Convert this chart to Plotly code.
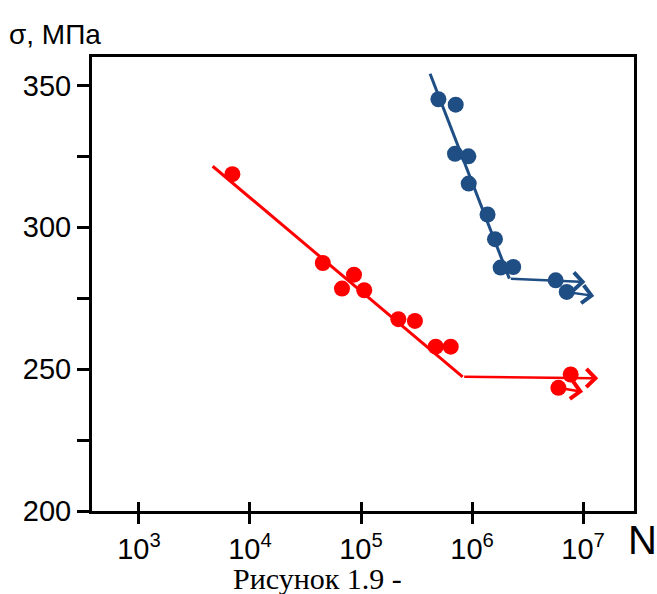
import numpy as np
import plotly.graph_objects as go

# ---- data ----
red_N = [6.94e3, 4.53e4, 8.65e4, 6.74e4, 1.07e5, 2.17e5, 3.06e5, 4.71e5, 6.43e5, 7.74e6, 6.0e6]
red_s = [318.7, 287.4, 283.3, 278.4, 277.8, 267.6, 267.0, 257.9, 257.9, 248.1, 243.4]
blue_N = [4.98e5, 7.13e5, 7.03e5, 9.27e5, 9.34e5, 1.38e6, 1.61e6, 1.81e6, 2.35e6, 5.67e6, 7.13e6]
blue_s = [345.1, 343.2, 325.9, 325.0, 315.4, 304.5, 295.8, 285.8, 286.0, 281.3, 277.2]

# fitted lines: start, knee ; arrows: (tail, tip)
red_line_N = [4.61e3, 8.24e5]
red_line_s = [321.5, 247.3]
red_arrow_tail_N = [8.24e5, 6.0e6]
red_arrow_tail_s = [247.3, 243.4]
red_arrow_tip_N = [1.37e7, 1.0e7]
red_arrow_tip_s = [246.8, 242.0]

blue_line_N = [4.19e5, 2.17e6]
blue_line_s = [354.1, 281.9]
blue_arrow_tail_N = [2.17e6, 7.13e6]
blue_arrow_tail_s = [281.9, 277.2]
blue_arrow_tip_N = [1.05e7, 1.26e7]
blue_arrow_tip_s = [280.7, 275.8]

x_tickvals = [1e3, 1e4, 1e5, 1e6, 1e7]
x_ticktext = ["10<sup>3</sup>", "10<sup>4</sup>", "10<sup>5</sup>", "10<sup>6</sup>", "10<sup>7</sup>"]
y_tickvals = [200, 225, 250, 275, 300, 325, 350]
y_ticktext = ["200", "", "250", "", "300", "", "350"]

RED = "#FF0000"
BLUE = "#1F4E85"
FONT = "Arial, Liberation Sans, sans-serif"

fig = go.Figure()
fig.add_trace(go.Scatter(x=red_line_N, y=red_line_s, mode="lines",
                         line=dict(color=RED, width=3), showlegend=False))
fig.add_trace(go.Scatter(x=blue_line_N, y=blue_line_s, mode="lines",
                         line=dict(color=BLUE, width=3), showlegend=False))
fig.add_trace(go.Scatter(x=red_N, y=red_s, mode="markers",
                         marker=dict(color=RED, size=16), showlegend=False))
fig.add_trace(go.Scatter(x=blue_N, y=blue_s, mode="markers",
                         marker=dict(color=BLUE, size=16), showlegend=False))
fig.add_trace(go.Scatter(x=[], y=[], xaxis="x2", showlegend=False))

anns = []
for tails_N, tails_s, tips_N, tips_s, col in [
    (red_arrow_tail_N, red_arrow_tail_s, red_arrow_tip_N, red_arrow_tip_s, RED),
    (blue_arrow_tail_N, blue_arrow_tail_s, blue_arrow_tip_N, blue_arrow_tip_s, BLUE),
]:
    for tn, ts, pn, ps in zip(tails_N, tails_s, tips_N, tips_s):
        anns.append(dict(x=np.log10(pn), y=ps, ax=np.log10(tn), ay=ts,
                         xref="x", yref="y", axref="x", ayref="y",
                         text="", showarrow=True, arrowhead=4, arrowsize=1.4,
                         arrowwidth=2.5, arrowcolor=col, standoff=0, startstandoff=0))

# text positions given in pixels from the top-left of the picture
L, R, T, B = 92, 23, 57, 83
W, H = 657, 594
pw, ph = W - L - R, H - T - B


def px(x, y):
    return (x - L) / pw, (H - B - y) / ph


x0, y0 = px(7, 17)
anns.append(dict(x=x0, y=y0, xref="paper", yref="paper", text="σ, МПа",
                 showarrow=False, xanchor="left", yanchor="top",
                 font=dict(family=FONT, size=28, color="black")))
x0, y0 = px(642, 540)
anns.append(dict(x=x0, y=y0, xref="paper", yref="paper", text="N",
                 showarrow=False, xanchor="center", yanchor="middle",
                 font=dict(family=FONT, size=40, color="black")))
x0, y0 = px(317, 578)
anns.append(dict(x=x0, y=y0, xref="paper", yref="paper", text="Рисунок 1.9 -",
                 showarrow=False, xanchor="center", yanchor="middle",
                 font=dict(family="Liberation Serif, Times New Roman, serif", size=30, color="black")))

fig.update_layout(
    width=W, height=H,
    margin=dict(l=L, r=R, t=T, b=B),
    paper_bgcolor="white", plot_bgcolor="white",
    showlegend=False,
    annotations=anns,
    xaxis=dict(type="log", range=[2.577, 7.459], tickvals=x_tickvals, ticktext=x_ticktext,
               ticks="outside", ticklen=10, tickwidth=2.5, tickcolor="black",
               showline=True, linewidth=3, linecolor="black", mirror=True,
               showgrid=False, zeroline=False,
               tickfont=dict(family=FONT, size=29, color="black")),
    xaxis2=dict(type="log", range=[2.577, 7.459], overlaying="x", anchor="y", side="bottom",
                tickvals=x_tickvals, ticks="inside", ticklen=9, tickwidth=2.5, tickcolor="black",
                showticklabels=False, showline=False, showgrid=False, zeroline=False),
    yaxis=dict(range=[200, 360], tickvals=y_tickvals, ticktext=y_ticktext,
               ticks="outside", ticklen=12, tickwidth=2.5, tickcolor="black",
               showline=True, linewidth=3, linecolor="black", mirror=True,
               showgrid=False, zeroline=False,
               tickfont=dict(family=FONT, size=29, color="black")),
)

fig.write_html("out.html", config={"displayModeBar": False},
               post_script="document.body.style.margin='0';document.body.style.overflow='hidden';")
